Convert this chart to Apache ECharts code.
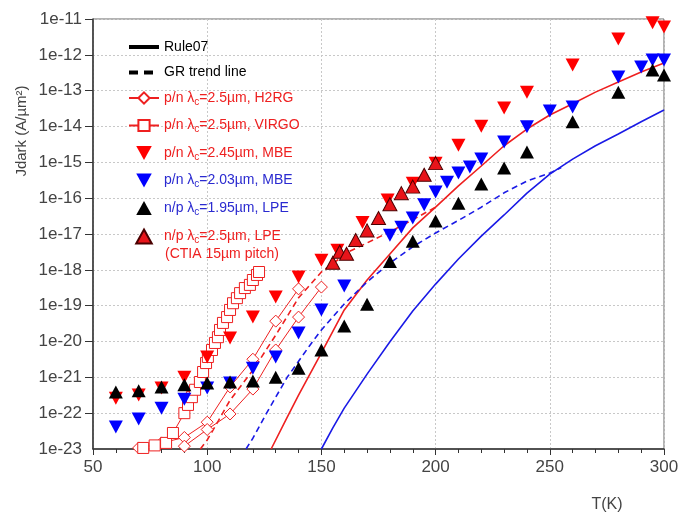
<!DOCTYPE html>
<html><head><meta charset="utf-8">
<script src="https://cdn.jsdelivr.net/npm/echarts@6/dist/echarts.min.js"></script>
<style>html,body{margin:0;padding:0;background:#fff}#c{width:680px;height:514px}</style>
</head><body><div id="c"></div>
<script>
// ---------- data (T in K, Jdark in A/µm²) ----------
const xTicks = [50, 100, 150, 200, 250, 300];
const yTickLabels = ['1e-23','1e-22','1e-21','1e-20','1e-19','1e-18','1e-17','1e-16','1e-15','1e-14','1e-13','1e-12','1e-11'];

const rule07Red = [[128,1.0e-23],[135,7.6e-23],[140,3.2e-22],[150,4.8e-21],[160,7.6e-20],[170,5.2e-19],[180,2.75e-18],[190,1.48e-17],[200,5.6e-17],[210,2.2e-16],[220,7.9e-16],[230,2.9e-15],[240,8.5e-15],[250,2.1e-14],[260,4.3e-14],[270,9.1e-14],[280,1.74e-13],[290,3.3e-13],[300,5.9e-13]];
const rule07Blue = [[150,1.0e-23],[155,3.9e-23],[160,1.38e-22],[170,1.23e-21],[180,9.8e-21],[190,7.1e-20],[200,4.0e-19],[210,2.0e-18],[220,8.7e-18],[230,3.4e-17],[240,1.38e-16],[250,4.7e-16],[260,1.23e-15],[270,2.9e-15],[280,6.2e-15],[290,1.35e-14],[300,2.9e-14]];
const grRed = [[97,1.0e-23],[100,1.78e-23],[105,6.3e-23],[110,2.3e-22],[120,1.58e-21],[130,1.5e-20],[140,1.66e-19],[150,8.7e-19],[162,3.2e-18],[180,1.15e-17],[190,2.5e-17],[200,5.6e-17]];
const grBlue = [[117,1.0e-23],[120,2.0e-23],[126,1.0e-22],[135,1.0e-21],[140,2.8e-21],[145,7.9e-21],[150,2.1e-20],[160,1.12e-19],[170,4.6e-19],[180,1.55e-18],[190,4.4e-18],[200,1.07e-17],[210,2.4e-17],[220,5.6e-17],[230,1.41e-16],[240,3.0e-16],[250,5.0e-16],[255,7.2e-16]];

const h2rgA = [[70,1.07e-23],[80,1.48e-23],[90,2.1e-23],[100,5.6e-23],[110,5.4e-22],[120,3.2e-21],[130,3.7e-20],[140,2.95e-19]];
const h2rgB = [[90,1.2e-23],[100,3.5e-23],[110,9.5e-23],[120,4.7e-22],[130,5.8e-21],[140,4.8e-20],[150,3.3e-19]];
const virgo = [[72,1.07e-23],[77,1.26e-23],[82,1.48e-23],[85,2.8e-23],[90,1.0e-22],[91.6,1.7e-22],[93.3,2.8e-22],[94.7,4.5e-22],[96.8,7.4e-22],[98.2,1.41e-21],[99.5,2.5e-21],[100.3,3.7e-21],[102.1,5.8e-21],[103.4,9.1e-21],[104.7,1.32e-20],[105.6,2.1e-20],[106.9,3.3e-20],[108.7,4.8e-20],[110,7.6e-20],[111.3,1.17e-19],[113,1.62e-19],[114.4,2.24e-19],[116.5,3.1e-19],[118.7,3.8e-19],[120,5.2e-19],[121.8,7.2e-19],[122.7,8.7e-19]];
const mbe245 = [[60,2.6e-22],[70,3.2e-22],[80,5.0e-22],[90,1.0e-21],[100,3.7e-21],[110,1.26e-20],[120,4.8e-20],[130,1.74e-19],[140,6.3e-19],[150,1.86e-18],[157,3.5e-18],[168,2.1e-17],[179,8.9e-17],[190,2.6e-16],[200,9.5e-16],[210,3.0e-15],[220,1.02e-14],[230,3.3e-14],[240,9.1e-14],[260,5.2e-13],[280,2.75e-12],[295,7.8e-12],[300,6.0e-12]];
const mbe203 = [[60,4.1e-23],[70,6.9e-23],[80,1.38e-22],[90,2.45e-22],[100,5.0e-22],[110,6.9e-22],[120,1.8e-21],[130,3.7e-21],[140,1.74e-20],[150,7.6e-20],[160,3.55e-19],[180,9.3e-18],[185,1.55e-17],[190,2.8e-17],[195,6.5e-17],[200,1.48e-16],[205,2.8e-16],[210,5.0e-16],[215,7.4e-16],[220,1.23e-15],[230,3.7e-15],[240,9.8e-15],[250,2.7e-14],[260,3.5e-14],[280,2.4e-13],[290,4.6e-13],[295,7.2e-13],[300,7.2e-13]];
const lpe195 = [[60,3.9e-22],[70,4.2e-22],[80,5.4e-22],[90,6.2e-22],[100,6.9e-22],[110,7.4e-22],[120,7.9e-22],[130,1.0e-21],[140,1.8e-21],[150,5.8e-21],[160,2.7e-20],[170,1.1e-19],[180,1.7e-18],[190,6.3e-18],[200,2.3e-17],[210,7.2e-17],[220,2.5e-16],[230,6.9e-16],[240,1.95e-15],[260,1.35e-14],[280,9.1e-14],[295,3.8e-13],[300,2.75e-13]];
const lpe25 = [[155,1.58e-18],[158,3.2e-18],[161,2.8e-18],[165,6.8e-18],[170,1.26e-17],[175,2.8e-17],[180,6.8e-17],[185,1.38e-16],[190,2.1e-16],[195,4.5e-16],[200,9.5e-16]];

// ---------- styling ----------
const RED = '#ee2020', BLUE = '#1a1ae6', TXT_BLUE = '#2a2ad0', BLACK = '#000';
const FONT = 'Liberation Sans, Arial, sans-serif';
const DOWN_TRI = 'path://M0 0L20 0L10 18Z';
const UP_TRI = 'path://M10 0L20 18L0 18Z';
const AXIS_LABEL = {color: '#444', fontSize: 17, fontFamily: FONT};

const legendText = {
  'Rule07': ['k', 'Rule07'],
  'GR trend line': ['k', 'GR trend line'],
  'H2RG': ['r', 'p/n λ', '=2.5µm, H2RG'],
  'VIRGO': ['r', 'p/n λ', '=2.5µm, VIRGO'],
  'MBE245': ['r', 'p/n λ', '=2.45µm, MBE'],
  'MBE203': ['b', 'p/n λ', '=2.03µm, MBE'],
  'LPE195': ['b', 'n/p λ', '=1.95µm, LPE'],
  'LPE25': ['r', 'n/p λ', '=2.5µm, LPE']
};

const graphicTexts = [
  {type: 'text', left: 165, top: 247, style: {text: '(CTIA 15µm pitch)', fill: RED, fontSize: 14, fontFamily: FONT}},
  {type: 'text', x: 22, y: 131, rotation: Math.PI / 2, style: {text: 'Jdark (A/µm²)', fill: '#444', fontSize: 15, fontFamily: FONT, align: 'center', verticalAlign: 'middle'}},
  {type: 'text', x: 607, y: 505, style: {text: 'T(K)', fill: '#444', fontSize: 16, fontFamily: FONT, align: 'center', verticalAlign: 'middle'}}
];

const chart = echarts.init(document.getElementById('c'), null, {renderer: 'canvas'});
const lineBase = {type: 'line', showSymbol: false, symbol: 'none', silent: true, clip: true, z: 2};
const yFormatter = v => yTickLabels[Math.round(Math.log10(v)) + 23] || '';
chart.setOption({
  animation: false,
  backgroundColor: '#fff',
  grid: {left: 93, right: 16, top: 19, bottom: 65, outerBoundsMode: 'none', show: true, borderColor: '#666', borderWidth: 1},
  xAxis: {
    type: 'value', min: 50, max: 300, interval: 50,
    axisLine: {show: true, lineStyle: {color: '#333', width: 1.5}},
    axisTick: {show: true, length: 6, lineStyle: {color: '#333'}},
    minorTick: {show: true, splitNumber: 5, length: 4, lineStyle: {color: '#333'}},
    axisLabel: Object.assign({margin: 10, showMinLabel: true, showMaxLabel: true}, AXIS_LABEL),
    splitLine: {show: true, lineStyle: {color: '#c8c8c8', type: [2, 2]}}
  },
  yAxis: {
    type: 'log', logBase: 10, min: 1e-23, max: 1e-11, interval: 1,
    axisLine: {show: true, lineStyle: {color: '#333', width: 1.5}},
    axisTick: {show: true, length: 8, lineStyle: {color: '#333'}},
    axisLabel: Object.assign({margin: 11, showMinLabel: true, showMaxLabel: true, hideOverlap: false, formatter: yFormatter}, AXIS_LABEL),
    splitLine: {show: true, lineStyle: {color: '#c8c8c8', type: [2, 2]}}
  },
  legend: {
    orient: 'vertical', left: 122, top: 35, itemWidth: 30, itemHeight: 14, itemGap: 11.5,
    selectedMode: false, symbolKeepAspect: true,
    textStyle: {fontFamily: FONT, fontSize: 14,
      rich: {
        k: {color: BLACK, fontSize: 14, lineHeight: 18, fontFamily: FONT},
        r: {color: RED, fontSize: 14, lineHeight: 18, fontFamily: FONT},
        rs: {color: RED, fontSize: 10, lineHeight: 12, verticalAlign: 'bottom', fontFamily: FONT},
        b: {color: TXT_BLUE, fontSize: 14, lineHeight: 18, fontFamily: FONT},
        bs: {color: TXT_BLUE, fontSize: 10, lineHeight: 12, verticalAlign: 'bottom', fontFamily: FONT}
      }},
    data: [
      {name: 'Rule07', itemStyle: {opacity: 0}, lineStyle: {width: 4, color: BLACK}},
      {name: 'GR trend line', itemStyle: {opacity: 0}, lineStyle: {width: 4, color: BLACK, type: [9, 6]}},
      'H2RG', 'VIRGO',
      {name: 'MBE245', icon: DOWN_TRI},
      {name: 'MBE203', icon: DOWN_TRI},
      {name: 'LPE195', icon: UP_TRI},
      {name: 'LPE25', icon: UP_TRI}
    ],
    formatter: name => {
      const t = legendText[name];
      if (t.length === 2) return '{' + t[0] + '|' + t[1] + '}';
      return '{' + t[0] + '|' + t[1] + '}{' + t[0] + 's|c}{' + t[0] + '|' + t[2] + '}';
    }
  },
  graphic: graphicTexts,
  series: [
    Object.assign({}, lineBase, {name: 'Rule07', data: [], itemStyle: {color: 'rgba(0,0,0,0)'}, lineStyle: {color: BLACK, width: 4}}),
    Object.assign({}, lineBase, {name: 'GR trend line', data: [], itemStyle: {color: 'rgba(0,0,0,0)'}, lineStyle: {color: BLACK, width: 4, type: [9, 6]}}),
    Object.assign({}, lineBase, {name: 'Rule07 2.5', data: rule07Red, lineStyle: {color: RED, width: 1.6}}),
    Object.assign({}, lineBase, {name: 'Rule07 2.03', data: rule07Blue, lineStyle: {color: BLUE, width: 1.6}}),
    Object.assign({}, lineBase, {name: 'GR 2.5', data: grRed, lineStyle: {color: RED, width: 1.6, type: [6, 4]}}),
    Object.assign({}, lineBase, {name: 'GR 2.03', data: grBlue, lineStyle: {color: BLUE, width: 1.6, type: [6, 4]}}),
    {name: 'H2RG', type: 'line', data: h2rgA, symbol: 'diamond', symbolSize: 12, showSymbol: true, z: 3,
      itemStyle: {color: '#fff', borderColor: RED, borderWidth: 1}, lineStyle: {color: RED, width: 1}},
    {name: 'H2RG', type: 'line', data: h2rgB, symbol: 'diamond', symbolSize: 12, showSymbol: true, z: 3,
      itemStyle: {color: '#fff', borderColor: RED, borderWidth: 1}, lineStyle: {color: RED, width: 1}},
    {name: 'VIRGO', type: 'line', data: virgo, symbol: 'rect', symbolSize: 11, showSymbol: true, z: 3,
      itemStyle: {color: '#fff', borderColor: RED, borderWidth: 1}, lineStyle: {color: RED, width: 1}},
    {name: 'MBE245', type: 'scatter', data: mbe245, symbol: 'triangle', symbolRotate: 180, symbolSize: [14, 13], z: 4,
      itemStyle: {color: '#ff0000', opacity: 1}},
    {name: 'MBE203', type: 'scatter', data: mbe203, symbol: 'triangle', symbolRotate: 180, symbolSize: [14, 13], z: 4,
      itemStyle: {color: '#0000ff', opacity: 1}},
    {name: 'LPE195', type: 'scatter', data: lpe195, symbol: 'triangle', symbolSize: [14, 13], z: 5,
      itemStyle: {color: '#000', opacity: 1}},
    {name: 'LPE25', type: 'scatter', data: lpe25, symbol: 'triangle', symbolSize: [14, 13], z: 6,
      itemStyle: {color: '#e8141a', borderColor: '#4a0000', borderWidth: 1, opacity: 1}}
  ]
});

// If the library dropped the bottom tick label (min of the log axis), add it at the axis's own pixel for that value.
const minLabel = yTickLabels[0];
const shown = chart.getZr().storage.getDisplayList(true).some(el =>
  el.style && el.style.text === minLabel && !el.ignore && !el.invisible);
if (!shown) {
  const py = chart.convertToPixel({yAxisIndex: 0}, 1e-23);
  const px = chart.convertToPixel({xAxisIndex: 0}, 50);
  chart.setOption({graphic: graphicTexts.concat([{type: 'text', x: px - 11, y: py,
    style: {text: minLabel, fill: AXIS_LABEL.color, fontSize: AXIS_LABEL.fontSize, fontFamily: FONT, align: 'right', verticalAlign: 'middle'}}])});
}
</script></body></html>
